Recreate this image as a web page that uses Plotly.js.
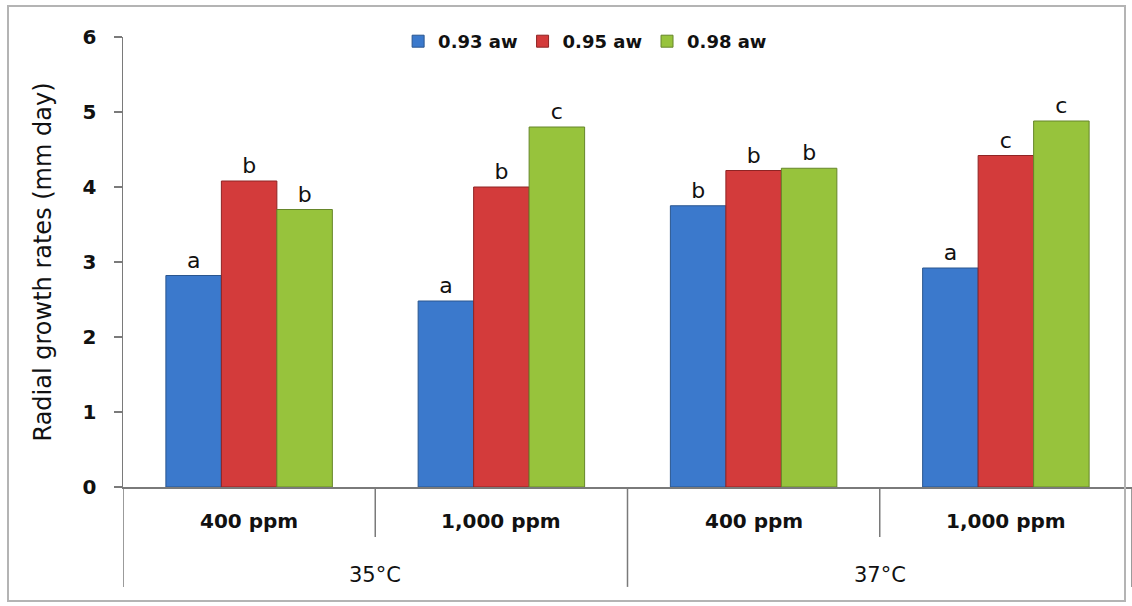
<!DOCTYPE html>
<html>
<head>
<meta charset="utf-8">
<script src="https://cdn.plot.ly/plotly-3.0.1.min.js"></script>
<style>
  html, body { margin: 0; padding: 0; background: #fff; }
  #wrap { position: relative; width: 1132px; height: 606px; }
  #chart { position: absolute; left: 0; top: 0; width: 1132px; height: 606px; }
  #frame { position: absolute; left: 7px; top: 5px; width: 1119px; height: 597px;
           border: 2px solid #b4b4b4; pointer-events: none; box-sizing: border-box; }
</style>
</head>
<body>
<div id="wrap">
  <div id="chart"></div>
  <div id="frame"></div>
</div>
<script>
// ---- data ----
const temperatures = ["35°C", "37°C"];
const concentrations = ["400 ppm", "1,000 ppm", "400 ppm", "1,000 ppm"];
const groupTemp = [0, 0, 1, 1]; // index into temperatures for each group
const seriesNames = ["0.93 aw", "0.95 aw", "0.98 aw"];
const aw093 = [2.82, 2.48, 3.75, 2.92];
const aw095 = [4.08, 4.00, 4.22, 4.42];
const aw098 = [3.70, 4.80, 4.25, 4.88];
const letters093 = ["a", "a", "b", "a"];
const letters095 = ["b", "b", "b", "c"];
const letters098 = ["b", "c", "b", "c"];
const yTicks = [0, 1, 2, 3, 4, 5, 6];

// ---- styles ----
const FONT = "DejaVu Sans, sans-serif";
const colors = ["#3b79cc", "#d33b3b", "#97c33c"];
const lineColors = ["#2a568f", "#8f2424", "#66862a"];
const values = [aw093, aw095, aw098];
const letters = [letters093, letters095, letters098];
const xIdx = concentrations.map((_, i) => i);

const traces = values.map((v, s) => ({
  type: "bar",
  name: seriesNames[s],
  x: xIdx,
  y: v,
  text: letters[s],
  textposition: "outside",
  cliponaxis: false,
  textfont: { family: FONT, size: 22, color: "#111" },
  marker: { color: colors[s], line: { color: lineColors[s], width: 1 } },
  hoverinfo: "y"
}));

// ---- category axis drawn with shapes/annotations ----
const shapes = [];
const annotations = [];
const nG = concentrations.length;
for (let b = 0; b <= nG; b++) {
  const xb = b - 0.5;
  const isTempBoundary = (b === 0 || b === nG || groupTemp[b] !== groupTemp[b - 1]);
  shapes.push({
    type: "line", xref: "x", yref: "paper",
    x0: xb, x1: xb, y0: 0, y1: isTempBoundary ? -0.222 : -0.111,
    line: { color: "#7a7a7a", width: 1.5 }
  });
}
concentrations.forEach((c, i) => {
  annotations.push({
    xref: "x", yref: "paper", x: i, y: -0.076, text: "<b>" + c + "</b>",
    showarrow: false, yanchor: "middle",
    font: { family: FONT, size: 20, color: "#111" }
  });
});
temperatures.forEach((t, ti) => {
  const members = groupTemp.map((g, i) => g === ti ? i : null).filter(v => v !== null);
  const center = (members[0] + members[members.length - 1]) / 2;
  annotations.push({
    xref: "x", yref: "paper", x: center, y: -0.196, text: t,
    showarrow: false, yanchor: "middle",
    font: { family: FONT, size: 21, color: "#111" }
  });
});

const layout = {
  width: 1132, height: 606,
  margin: { l: 123, r: 0, t: 37, b: 119 },
  paper_bgcolor: "rgba(0,0,0,0)",
  plot_bgcolor: "#fff",
  barmode: "group",
  bargap: 0.34,
  bargroupgap: 0,
  showlegend: true,
  legend: {
    orientation: "h", x: 0.458, xanchor: "center", y: 0.99, yanchor: "middle",
    font: { family: FONT, size: 18, color: "#111", weight: "bold" },
    itemwidth: 30, tracegroupgap: 0, bgcolor: "rgba(0,0,0,0)"
  },
  xaxis: {
    range: [-0.5, nG - 0.5],
    showticklabels: false, ticks: "",
    showgrid: false, zeroline: false,
    showline: true, linecolor: "#7a7a7a", linewidth: 1.5,
    fixedrange: true
  },
  yaxis: {
    range: [0, 6],
    tickvals: yTicks,
    ticktext: yTicks.map(String),
    ticks: "outside", ticklen: 8, tickcolor: "#7a7a7a", tickwidth: 1.5,
    ticklabelstandoff: 13,
    tickfont: { family: FONT, size: 20, color: "#111", weight: "bold" },
    showgrid: false, zeroline: false,
    showline: true, linecolor: "#7a7a7a", linewidth: 1.5,
    title: { text: "Radial growth rates (mm day)", standoff: 24,
             font: { family: FONT, size: 24, color: "#111" } },
    automargin: false,
    fixedrange: true
  },
  shapes: shapes,
  annotations: annotations,
  font: { family: FONT }
};

Plotly.newPlot("chart", traces, layout, { displayModeBar: false, staticPlot: true });
</script>
</body>
</html>
